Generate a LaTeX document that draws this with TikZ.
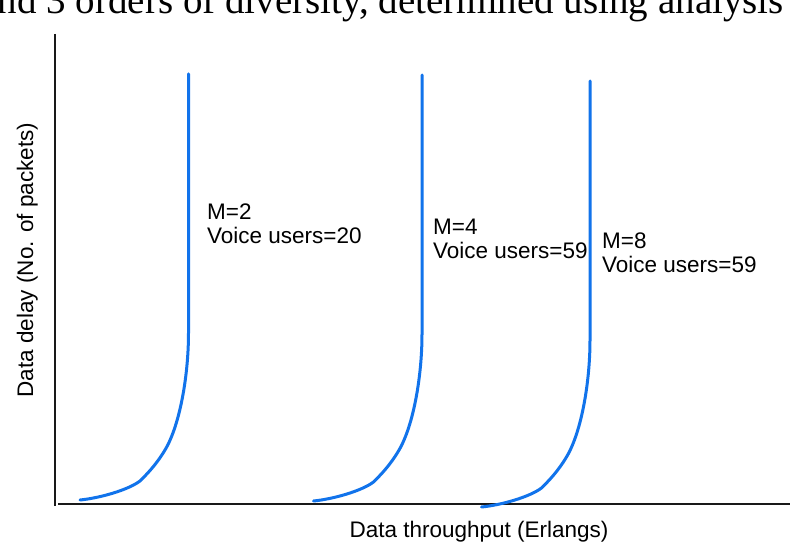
\documentclass[tikz,border=0pt]{standalone}
\usepackage{fontspec}
\setmainfont{Liberation Serif}
\newfontfamily\labelfont{Liberation Sans}
\definecolor{curveblue}{RGB}{17,115,235}
\begin{document}
\begin{tikzpicture}[x=1pt,y=-1pt,
  axisline/.style={line width=2pt,black!90},
  delaycurve/.style={line width=3pt,curveblue,line cap=round,line join=round},
  curvelabel/.style={font=\labelfont\fontsize{22.5}{24.5}\selectfont,align=left,anchor=base west,inner sep=0pt},
  axislabel/.style={font=\labelfont\fontsize{22.5}{26}\selectfont,inner sep=0pt}]
\clip (0,0) rectangle (790,545);
\fill[white] (0,0) rectangle (790,545);

% caption line running off the top edge
\node[font=\fontsize{39}{41}\selectfont,anchor=base east,inner sep=0pt] (caption) at (784,14)
  {and 3 orders of diversity, determined using analysis};

% axes
\coordinate (ytop) at (55,34);
\coordinate (ybot) at (55,506);
\coordinate (xleft) at (58,504);
\coordinate (xright) at (790,504);
\draw[axisline] (ytop) -- (ybot);
\draw[axisline] (xleft) -- (xright);

% one delay curve: flat rise near the axis, knee, then vertical
\newcommand{\delaypath}{%
  (188.5,74) -- (188.5,333)
  .. controls (188.5,375) and (180,425) .. (165,450)
  .. controls (156,465) and (147,474) .. (140,481)
  .. controls (128,490) and (100,498) .. (80,500)}

\draw[delaycurve] \delaypath;
\begin{scope}[shift={(233.5,1)}]
  \draw[delaycurve] \delaypath;
\end{scope}
\begin{scope}[shift={(401.5,7)}]
  \draw[delaycurve] \delaypath;
\end{scope}

% curve labels (anchored on the second line's baseline)
\node[curvelabel] (lab2) at (207,244) {M=2\\Voice users=20};
\node[curvelabel] (lab4) at (433,259) {M=4\\Voice users=59};
\node[curvelabel] (lab8) at (602,273) {M=8\\Voice users=59};

% axis titles
\node[axislabel,anchor=base] (xtitle) at (479,537) {Data throughput (Erlangs)};
\node[axislabel,anchor=base,rotate=90] (ytitle) at (33,260) {Data delay (No. of packets)};
\end{tikzpicture}
\end{document}
